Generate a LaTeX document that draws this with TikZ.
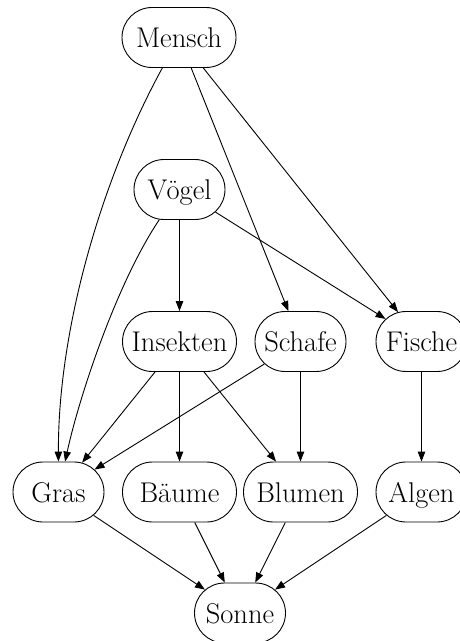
\documentclass[tikz,border=0pt]{standalone}
\usetikzlibrary{arrows.meta,shapes.misc}
\begin{document}
\begin{tikzpicture}[x=1pt,y=-1pt,
  animal/.style={draw, line width=0.9pt, rounded rectangle, inner xsep=-22pt, inner ysep=0pt,
    minimum width=47pt, minimum height=60pt, text height=22pt, text depth=2pt,
    font=\fontsize{28.5pt}{34pt}\selectfont},
  wide/.style={minimum width=70pt},
  eats/.style={line width=0.9pt, -{Triangle[length=10pt,width=7.5pt]}}]
\useasboundingbox (0,0) rectangle (460,641);

% top level
\node[animal,wide] (mensch) at (179,37.5) {Mensch};
\node[animal] (voegel) at (179.5,189.5) {Vögel};

% middle level
\node[animal,wide] (insekten) at (179.5,341.5) {Insekten};
\node[animal] (schafe) at (300.5,341.5) {Schafe};
\node[animal] (fische) at (421.5,341.5) {Fische};

% plants
\node[animal] (gras) at (58.5,492) {Gras};
\node[animal,wide] (baeume) at (179.5,492) {Bäume};
\node[animal,wide] (blumen) at (300.5,492) {Blumen};
\node[animal] (algen) at (421.5,492) {Algen};

% energy source
\node[animal] (sonne) at (240,613) {Sonne};

% food-chain edges
\draw[eats] (mensch) .. controls (101,180) and (58,330) .. (gras);
\draw[eats] (mensch) -- (schafe);
\draw[eats] (mensch) -- (fische);

\draw[eats] (voegel) .. controls (115.5,285) and (78.4,400) .. (gras);
\draw[eats] (voegel) -- (insekten);
\draw[eats] (voegel) -- (fische);

\draw[eats] (insekten) -- (gras);
\draw[eats] (insekten) -- (baeume);
\draw[eats] (insekten) -- (blumen);

\draw[eats] (schafe) -- (gras);
\draw[eats] (schafe) -- (blumen);

\draw[eats] (fische) -- (algen);

\draw[eats] (gras) -- (sonne);
\draw[eats] (baeume) -- (sonne);
\draw[eats] (blumen) -- (sonne);
\draw[eats] (algen) -- (sonne);
\end{tikzpicture}
\end{document}
